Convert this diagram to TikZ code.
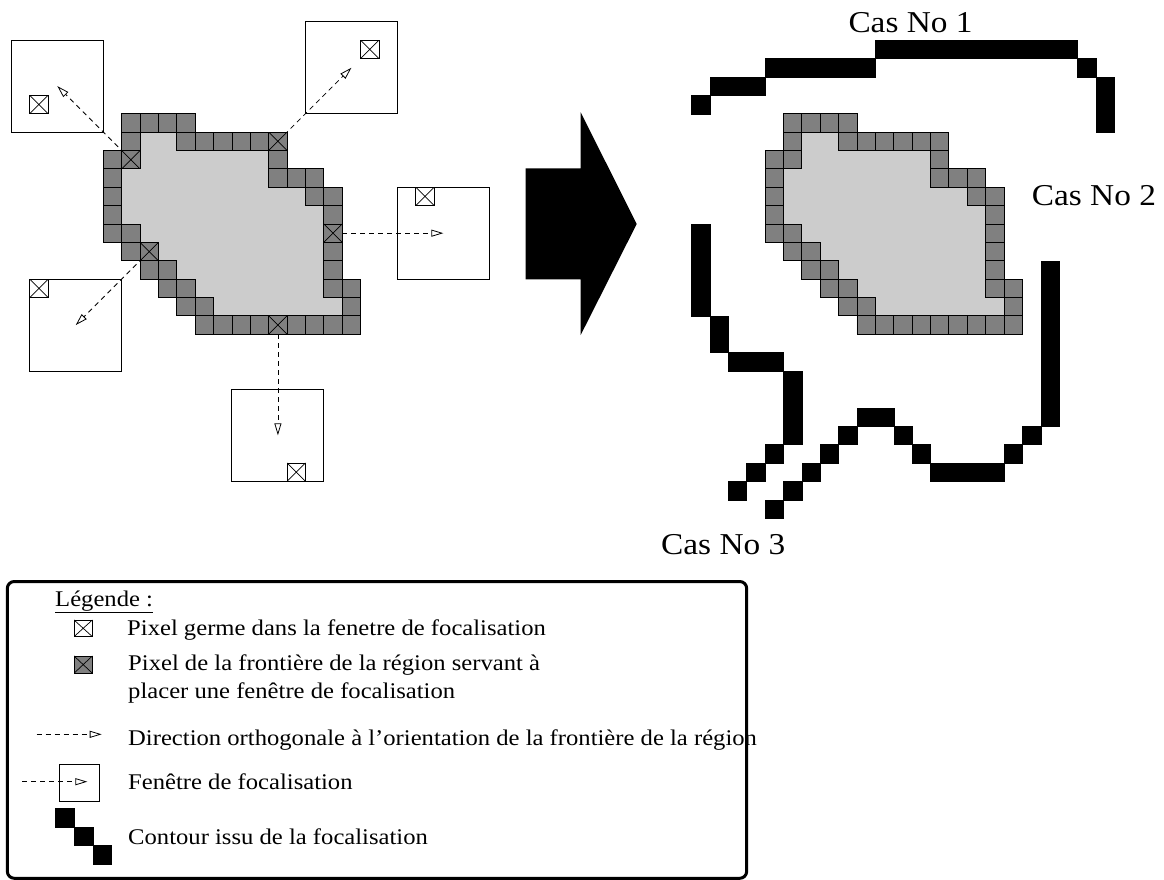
\documentclass[tikz,border=0pt]{standalone}
\usepackage{fontspec}
\setmainfont{Liberation Serif}[FakeStretch=1.1]
\usepackage{tikz}
\usetikzlibrary{
  arrows.meta,
  backgrounds
}
\definecolor{fcFront}{HTML}{808080}
\definecolor{fcInner}{HTML}{CCCCCC}
\tikzset{
  pix/.style={draw, line width=0.8pt, minimum size=18.38pt, inner sep=0pt, outer sep=0pt},
  xmark/.style={path picture={
      \draw[line width=0.7pt] (path picture bounding box.north west) -- (path picture bounding box.south east)
        (path picture bounding box.north east) -- (path picture bounding box.south west);}},
  seedpix/.style={pix, fill=white, xmark},
  frontpix/.style={pix, fill=fcFront, xmark},
  frontcell/.style={fill=fcFront, draw=black, line width=0.8pt},
  contour/.style={fill=black, draw=black, line width=0.3pt},
  window/.style={draw, line width=1pt, minimum size=91.9pt, inner sep=0pt},
  ortho/.style={dash pattern=on 5pt off 4pt, line width=0.8pt, -{Triangle[open, length=12pt, width=7pt]}},
  bigarrow/.style={fill=black},
  casno/.style={font=\fontsize{30.3}{36}\selectfont, inner sep=0pt, anchor=base west},
  legtext/.style={font=\fontsize{22.4}{28}\selectfont, inner sep=0pt, anchor=base west, align=left},
  legbox/.style={draw, line width=3pt, rounded corners=7pt}
}
\newcommand{\fcregion}{%
  \fill[fcInner] (1,0) -- (5,0) -- (5,1) -- (10,1) -- (10,3) -- (12,3) -- (12,4) -- (13,4) -- (13,9)
    -- (14,9) -- (14,12) -- (5,12) -- (5,11) -- (4,11) -- (4,10) -- (3,10) -- (3,9) -- (2,9) -- (2,8)
    -- (1,8) -- (1,7) -- (0,7) -- (0,2) -- (1,2) -- cycle;
  \foreach \c/\r in {1/0,2/0,3/0,4/0, 1/1,4/1,5/1,6/1,7/1,8/1,9/1, 0/2,1/2,9/2, 0/3,9/3,10/3,11/3,
      0/4,11/4,12/4, 0/5,12/5, 0/6,1/6,12/6, 1/7,2/7,12/7, 2/8,3/8,12/8, 3/9,4/9,12/9,13/9,
      4/10,5/10,13/10, 5/11,6/11,7/11,8/11,9/11,10/11,11/11,12/11,13/11}
    \draw[frontcell] (\c,\r) rectangle ++(1,1);
}
\begin{document}
\begin{tikzpicture}[x=1pt, y=-1pt]
  \useasboundingbox (0,0) rectangle (1164,880);

  \begin{scope}[shift={(103.3,113.7)}, x=18.38pt, y=-18.38pt]
    \node[window] (fw1) at (-2.5,-1.5) {};
    \node[window] (fw2) at (13.5,-2.5) {};
    \node[window] (fw3) at (18.5,6.5) {};
    \node[window] (fw4) at (-1.5,11.5) {};
    \node[window] (fw5) at (9.5,17.5) {};
    \node[seedpix] (fs1) at (-3.5,-0.5) {};
    \node[seedpix] (fs2) at (14.5,-3.5) {};
    \node[seedpix] (fs3) at (17.5,4.5) {};
    \node[seedpix] (fs4) at (-3.5,9.5) {};
    \node[seedpix] (fs5) at (10.5,19.5) {};
    \fcregion
    \node[frontpix] (fb1) at (1.5,2.5) {};
    \node[frontpix] (fb2) at (9.5,1.5) {};
    \node[frontpix] (fb3) at (12.5,6.5) {};
    \node[frontpix] (fb4) at (2.5,7.5) {};
    \node[frontpix] (fb5) at (9.5,11.5) {};
    \begin{scope}[on background layer]
      \draw[ortho] (fb1.center) -- (fw1.center);
      \draw[ortho] (fb2.center) -- (fw2.center);
      \draw[ortho] (fb3.center) -- (fw3.center);
      \draw[ortho] (fb4.center) -- (fw4.center);
      \draw[ortho] (fb5.center) -- (fw5.center);
    \end{scope}
  \end{scope}

  \fill[bigarrow] (525.7,168.3) -- (580.7,168.3) -- (580.7,112.3) -- (636.7,224) -- (580.7,335)
    -- (580.7,279.3) -- (525.7,279.3) -- cycle;

  \begin{scope}[shift={(765,113.7)}, x=18.38pt, y=-18.38pt]
    \fcregion
    \foreach \c/\r in {-4/-1, -3/-2,-2/-2,-1/-2, 0/-3,1/-3,2/-3,3/-3,4/-3,5/-3,
        6/-4,7/-4,8/-4,9/-4,10/-4,11/-4,12/-4,13/-4,14/-4,15/-4,16/-4, 17/-3, 18/-2,18/-1,18/0}
      \fill[contour] (\c,\r) rectangle ++(1,1);
    \foreach \c/\r in {15/8,15/9,15/10,15/11,15/12,15/13,15/14,15/15,15/16, 14/17, 13/18,
        9/19,10/19,11/19,12/19, 8/18, 7/17, 5/16,6/16, 4/17, 3/18, 2/19, 1/20, 0/21}
      \fill[contour] (\c,\r) rectangle ++(1,1);
    \foreach \c/\r in {-4/6,-4/7,-4/8,-4/9,-4/10, -3/11,-3/12, -2/13,-1/13,0/13,
        1/14,1/15,1/16,1/17, 0/18, -1/19, -2/20}
      \fill[contour] (\c,\r) rectangle ++(1,1);
  \end{scope}

  \node[casno] (cas1) at (848.3,32.3) {Cas No 1};
  \node[casno] (cas2) at (1031.7,205.7) {Cas No 2};
  \node[casno] (cas3) at (661,554.3) {Cas No 3};

  \draw[legbox] (7.3,581.5) rectangle (746.7,878.3);
  \node[legtext] (lg0) at (55,606) {\underline{Légende :}};
  \node[seedpix, minimum height=16.7pt] (lgseed) at (83.2,628.3) {};
  \node[legtext] (lg1) at (127,635) {Pixel germe dans la fenetre de focalisation};
  \node[frontpix, minimum height=17.3pt] (lgfront) at (83.2,664.6) {};
  \node[legtext] (lg2) at (128,698) {Pixel de la frontière de la région servant à\\placer une fenêtre de focalisation};
  \coordinate (lgdirA) at (36.7,734.3);
  \coordinate (lgdirB) at (101.7,734.3);
  \draw[ortho] (lgdirA) -- (lgdirB);
  \node[legtext] (lg3) at (128,745) {Direction orthogonale à l’orientation de la frontière de la région};
  \node[window, minimum width=40.4pt, minimum height=36.7pt] (lgwin) at (79.5,782.7) {};
  \coordinate (lgwinA) at (22.3,781.7);
  \coordinate (lgwinB) at (87.3,781.7);
  \draw[ortho] (lgwinA) -- (lgwinB);
  \node[legtext] (lg4) at (128,789) {Fenêtre de focalisation};
  \fill[contour] (55,808) rectangle (74,826.7);
  \fill[contour] (74,826.7) rectangle (92.7,845);
  \fill[contour] (92.7,845) rectangle (111,864);
  \node[legtext] (lg5) at (128,844) {Contour issu de la focalisation};
\end{tikzpicture}
\end{document}
